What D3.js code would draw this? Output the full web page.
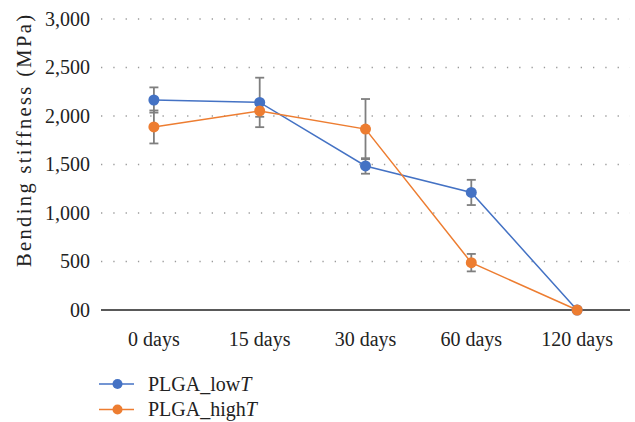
<!DOCTYPE html>
<html><head><meta charset="utf-8">
<script src="https://cdn.jsdelivr.net/npm/d3@7"></script>
<style>body{margin:0;background:#fff}svg{display:block}</style>
</head><body>
<svg id="c" width="635" height="422"></svg>
<script>
const categories = ["0 days","15 days","30 days","60 days","120 days"];
const lowT = [2165, 2140, 1485, 1212, 0];
const lowTErr = [130, 255, 80, 130, 0];
const highT = [1887, 2052, 1865, 488, 0];
const highTErr = [170, 60, 310, 90, 0];
const yTicks = [0, 500, 1000, 1500, 2000, 2500, 3000];
const yTickLabels = ["00", "500", "1,000", "1,500", "2,000", "2,500", "3,000"];
const seriesNames = ["PLGA_low", "PLGA_high"];
const colors = ["#4472c4", "#ed7d31"];

const svg = d3.select("#c");
const font = "'Liberation Serif', 'DejaVu Serif', serif";
const x = d3.scaleBand().domain(categories).range([101, 630]);
const y = d3.scaleLinear().domain([0, 3000]).range([310, 19]);

// grid
svg.append("g").selectAll("line").data(yTicks.filter(d => d > 0)).join("line")
  .attr("x1", 101).attr("x2", 630)
  .attr("y1", d => y(d)).attr("y2", d => y(d))
  .attr("stroke", "#9a9a9a").attr("stroke-width", 1.3)
  .attr("stroke-dasharray", "1.3,11");

// y labels
svg.append("g").selectAll("text").data(yTicks).join("text")
  .attr("x", 90).attr("y", d => y(d) + 6.5)
  .attr("text-anchor", "end").attr("font-family", font).attr("font-size", 20).attr("fill", "#222")
  .text((d, i) => yTickLabels[i]);

// x axis line
svg.append("line").attr("x1", 101).attr("x2", 630).attr("y1", y(0)).attr("y2", y(0))
  .attr("stroke", "#222").attr("stroke-width", 1.3);

svg.append("g").selectAll("text").data(categories).join("text")
  .attr("x", d => x(d) + x.bandwidth() / 2).attr("y", 346)
  .attr("text-anchor", "middle").attr("font-family", font).attr("font-size", 20).attr("fill", "#222")
  .text(d => d);

// y title
svg.append("text").attr("transform", "translate(31,141) rotate(-90)")
  .attr("text-anchor", "middle").attr("font-family", font).attr("font-size", 20.5).attr("fill", "#222")
  .attr("textLength", 252).attr("lengthAdjust", "spacing")
  .text("Bending stiffness (MPa)");

const cx = d => x(d) + x.bandwidth() / 2;
const series = [[lowT, lowTErr], [highT, highTErr]];

// error bars
series.forEach(([vals, errs]) => {
  const g = svg.append("g").attr("stroke", "#7f7f7f").attr("stroke-width", 1.8);
  categories.forEach((c, i) => {
    if (!errs[i]) return;
    const x0 = cx(c), y1 = y(vals[i] + errs[i]), y2 = y(vals[i] - errs[i]);
    g.append("line").attr("x1", x0).attr("x2", x0).attr("y1", y1).attr("y2", y2);
    g.append("line").attr("x1", x0 - 4.5).attr("x2", x0 + 4.5).attr("y1", y1).attr("y2", y1);
    g.append("line").attr("x1", x0 - 4.5).attr("x2", x0 + 4.5).attr("y1", y2).attr("y2", y2);
  });
});

const line = d3.line().x((d, i) => cx(categories[i])).y(d => y(d));
series.forEach(([vals], s) => {
  svg.append("path").datum(vals).attr("d", line).attr("fill", "none")
    .attr("stroke", colors[s]).attr("stroke-width", 1.5);
});
series.forEach(([vals], s) => {
  svg.append("g").selectAll("circle").data(vals).join("circle")
    .attr("cx", (d, i) => cx(categories[i])).attr("cy", d => y(d)).attr("r", 5.5)
    .attr("fill", colors[s]);
});

// legend
seriesNames.forEach((n, s) => {
  const ly = 384 + s * 25.5;
  svg.append("line").attr("x1", 99).attr("x2", 134).attr("y1", ly).attr("y2", ly)
    .attr("stroke", colors[s]).attr("stroke-width", 1.5);
  svg.append("circle").attr("cx", 117.5).attr("cy", ly).attr("r", 5).attr("fill", colors[s]);
  const t = svg.append("text").attr("x", 148).attr("y", ly + 6.5)
    .attr("font-family", font).attr("font-size", 20).attr("fill", "#222");
  t.append("tspan").text(n);
  t.append("tspan").attr("font-style", "italic").text("T");
});
</script>
</body></html>
